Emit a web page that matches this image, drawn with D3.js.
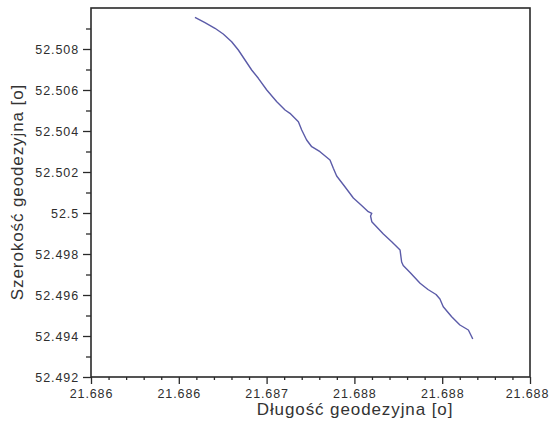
<!DOCTYPE html>
<html>
<head>
<meta charset="utf-8">
<script src="https://cdn.jsdelivr.net/npm/d3@7"></script>
<style>
  body { margin: 0; background: #fff; }
  text { font-family: "Liberation Sans", Arial, sans-serif; }
</style>
</head>
<body>
<svg id="chart" width="551" height="431"></svg>
<script>
// track: longitude / latitude
var lon = [21.686592, 21.686649, 21.686706, 21.686753, 21.686801, 21.686839, 21.686877, 21.686915,
  21.686953, 21.687001, 21.687058, 21.687105, 21.687133, 21.687181, 21.687200, 21.687228,
  21.687257, 21.687304, 21.687361, 21.687380, 21.687399, 21.687446, 21.687494, 21.687538,
  21.687579, 21.687599, 21.687592, 21.687599, 21.687665, 21.687714, 21.687760, 21.687769,
  21.687778, 21.687817, 21.687874, 21.687919, 21.687965, 21.687987, 21.688006, 21.688054,
  21.688101, 21.688149, 21.688168, 21.688174];
var lat = [52.509546, 52.509283, 52.509010, 52.508732, 52.508356, 52.507951, 52.507463, 52.506976,
  52.506571, 52.506000, 52.505429, 52.505024, 52.504863, 52.504454, 52.504049, 52.503561,
  52.503234, 52.502990, 52.502585, 52.502180, 52.501805, 52.501283, 52.500732, 52.500390,
  52.500063, 52.499985, 52.499854, 52.499576, 52.498976, 52.498585, 52.498195, 52.497610,
  52.497439, 52.497098, 52.496571, 52.496268, 52.496024, 52.495805, 52.495429, 52.494941,
  52.494537, 52.494293, 52.493966, 52.493854];

var xTicks = [21.686, 21.6865, 21.687, 21.6875, 21.688, 21.6885];
var xTickLabels = ["21.686", "21.686", "21.687", "21.688", "21.688", "21.688"];
var yTicks = [52.492, 52.494, 52.496, 52.498, 52.5, 52.502, 52.504, 52.506, 52.508];
var yTickLabels = ["52.492", "52.494", "52.496", "52.498", "52.5", "52.502", "52.504", "52.506", "52.508"];

var margin = {top: 8, right: 21, bottom: 54, left: 91};
var width = 551, height = 431;

var svg = d3.select("#chart");

var x = d3.scaleLinear()
    .domain([21.686, 21.6885])
    .range([margin.left, width - margin.right]);
var y = d3.scaleLinear()
    .domain([52.492, 52.510])
    .range([height - margin.bottom, margin.top]);

// minor ticks
var xMinor = d3.range(0, 26).map(i => 21.686 + i * 0.0001).filter((d, i) => i % 5 != 0);
var yMinor = d3.range(0, 19).map(i => 52.492 + i * 0.001).filter((d, i) => i % 2 != 0);

var ink = "#2a2a2a";

svg.append("g")
    .attr("transform", `translate(0,${y.range()[0]})`)
    .call(d3.axisBottom(x).tickValues(xMinor).tickFormat("").tickSize(3).tickSizeOuter(0))
    .call(g => g.select(".domain").remove());
svg.append("g")
    .attr("transform", `translate(${x.range()[0]},0)`)
    .call(d3.axisLeft(y).tickValues(yMinor).tickFormat("").tickSize(5).tickSizeOuter(0))
    .call(g => g.select(".domain").remove());

var xAxis = svg.append("g")
    .attr("transform", `translate(0,${y.range()[0]})`)
    .call(d3.axisBottom(x).tickValues(xTicks).tickFormat((d, i) => xTickLabels[i]).tickSize(7).tickSizeOuter(0).tickPadding(5))
    .call(g => g.select(".domain").remove());

var yAxis = svg.append("g")
    .attr("transform", `translate(${x.range()[0]},0)`)
    .call(d3.axisLeft(y).tickValues(yTicks).tickFormat((d, i) => yTickLabels[i]).tickSize(8).tickSizeOuter(0).tickPadding(4))
    .call(g => g.select(".domain").remove());

svg.selectAll(".tick line").attr("stroke", ink).attr("stroke-width", 1.3);
svg.selectAll(".tick text")
    .attr("fill", "#2e2e2e")
    .style("font-size", "12.5px")
    .style("letter-spacing", "0.9px");

// last x label sits at the window edge, nudge it inside
xAxis.selectAll(".tick text").filter((d, i) => i == xTicks.length - 1).attr("dx", "-3");

// frame
svg.append("rect")
    .attr("x", x.range()[0])
    .attr("y", y.range()[1])
    .attr("width", x.range()[1] - x.range()[0])
    .attr("height", y.range()[0] - y.range()[1])
    .attr("fill", "none")
    .attr("stroke", ink)
    .attr("stroke-width", 1.6);

// the track
var line = d3.line()
    .x((d, i) => x(lon[i]))
    .y((d, i) => y(lat[i]))
    .curve(d3.curveLinear);

svg.append("path")
    .datum(lon)
    .attr("d", line)
    .attr("fill", "none")
    .attr("stroke", "#5b5ba8")
    .attr("stroke-width", 1.4)
    .attr("stroke-linejoin", "round");

// axis titles
svg.append("text")
    .attr("x", 355)
    .attr("y", 415)
    .attr("text-anchor", "middle")
    .attr("fill", "#333")
    .style("font-size", "17px")
    .style("letter-spacing", "0.9px")
    .text("Długość geodezyjna [o]");

svg.append("text")
    .attr("transform", "translate(23,192) rotate(-90)")
    .attr("text-anchor", "middle")
    .attr("fill", "#333")
    .style("font-size", "17px")
    .style("letter-spacing", "0.9px")
    .text("Szerokość geodezyjna [o]");
</script>
</body>
</html>
